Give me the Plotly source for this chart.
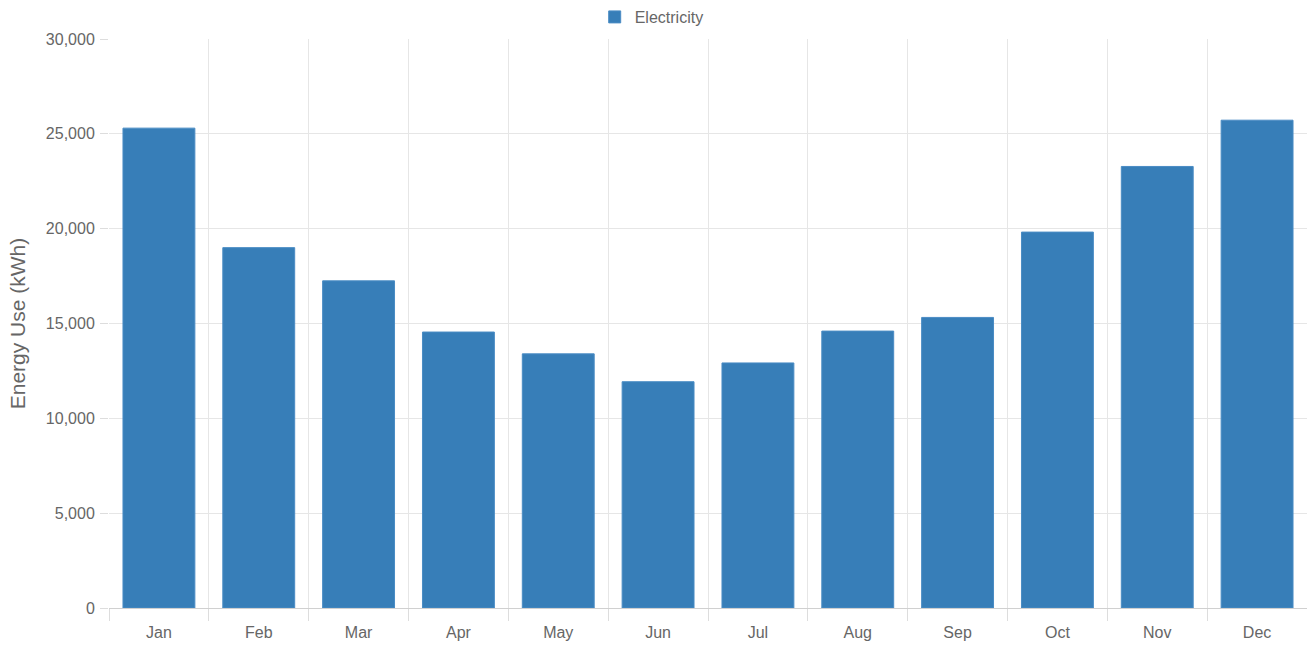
import plotly.graph_objects as go

months = ["Jan", "Feb", "Mar", "Apr", "May", "Jun", "Jul", "Aug", "Sep", "Oct", "Nov", "Dec"]
electricity = [25300, 19000, 17250, 14550, 13400, 11930, 12920, 14600, 15320, 19820, 23280, 25720]

fig = go.Figure()
fig.add_trace(go.Bar(
    x=months, y=electricity, name="Electricity",
    marker=dict(color="#377eb8", line=dict(color="#4a8cc4", width=1)),
    showlegend=True,
))

fig.update_layout(
    width=1307, height=647,
    margin=dict(l=109, r=0, t=38, b=39),
    paper_bgcolor="white", plot_bgcolor="white",
    bargap=0.28,
    font=dict(family="Liberation Sans, Arial, sans-serif", color="#666666", size=16),
    showlegend=True,
    legend=dict(orientation="h", x=0.453, xanchor="center", y=1.039, yanchor="middle",
                font=dict(size=16, color="#666666"), itemwidth=30),
)
fig.update_xaxes(
    tickson="boundaries", showgrid=True, gridcolor="#e6e6e6", gridwidth=1,
    ticks="outside", ticklen=12, tickcolor="#dddddd",
    showline=True, linecolor="#d0d0d0", linewidth=1,
    ticklabelstandoff=10,
    tickfont=dict(size=16, color="#666666"),
)
fig.update_yaxes(
    range=[0, 30000], dtick=5000, tickformat=",",
    showgrid=True, gridcolor="#e6e6e6", gridwidth=1,
    ticks="outside", ticklen=8, tickcolor="#dddddd",
    zeroline=False, showline=False,
    ticklabelstandoff=2,
    title=dict(text="Energy Use (kWh)", font=dict(size=21, color="#666666"), standoff=14),
    tickfont=dict(size=16, color="#666666"),
)

fig.write_html("out.html", config={"displayModeBar": False},
               post_script="document.body.style.margin='0';")
